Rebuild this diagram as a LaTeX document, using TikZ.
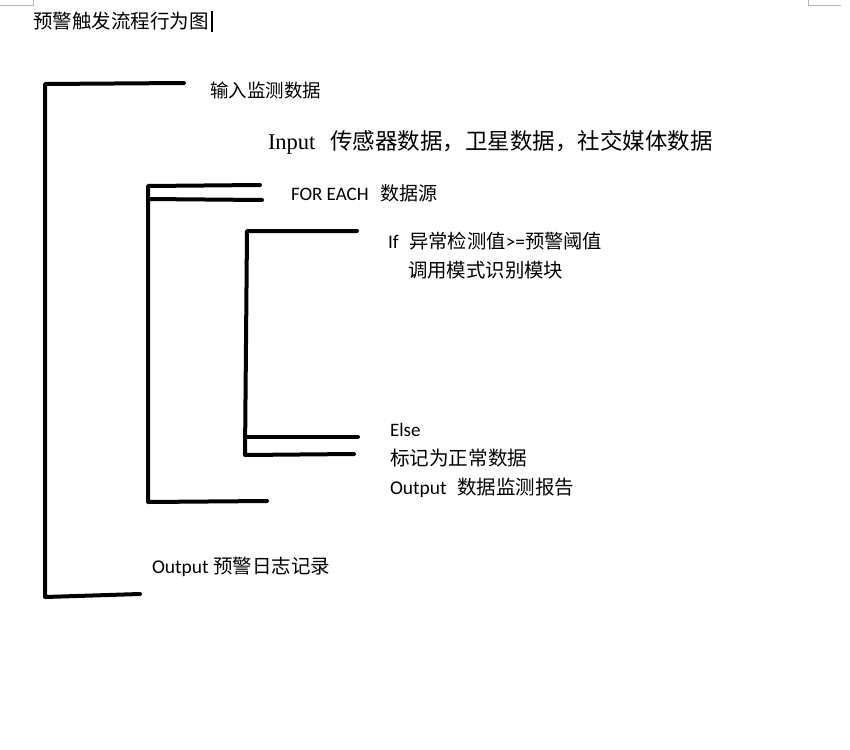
\documentclass[tikz,border=0pt]{standalone}
\usepackage{fontspec}
\setmainfont{Liberation Serif}
\newfontfamily\cjk{Noto Sans CJK SC}
\newfontfamily\calfont{Carlito}
\begin{document}
\begin{tikzpicture}[x=1pt,y=-1pt,
  bracket/.style={line width=4pt,line cap=round,line join=round},
  pagemark/.style={draw=black!30,line width=1pt},
  label/.style={anchor=base west,inner sep=0pt,outer sep=0pt},
  sz/.style={font=\fontsize{#1}{#1}\selectfont}]
\useasboundingbox[fill=white] (0,0) rectangle (850,749);

% page corner marks and caret
\draw[pagemark] (0,6) -- (33,6) -- (33,0);
\draw[pagemark] (841,6) -- (808,6) -- (808,0);
\coordinate (caretTop) at (212,11);
\coordinate (caretBot) at (212,32);
\draw[line width=1.2pt] (caretTop) -- (caretBot);

% title
\node[label,sz=19.5] (title) at (33,29) {\cjk 预警触发流程行为图};

% outer bracket
\coordinate (o1) at (184,83);
\coordinate (o2) at (45,84);
\coordinate (o3) at (45,597);
\coordinate (o4) at (140,594);
\draw[bracket] (o1) -- (o2) -- (o3) -- (o4);

% loop bracket
\coordinate (f1) at (260,185);
\coordinate (f2) at (148,186);
\coordinate (f3) at (148,502);
\coordinate (f4) at (267,501);
\coordinate (f5) at (148,199);
\coordinate (f6) at (262,200);
\draw[bracket] (f1) -- (f2) -- (f3) -- (f4);
\draw[bracket] (f5) -- (f6);

% if/else bracket
\coordinate (c1) at (357,231);
\coordinate (c2) at (247,231);
\coordinate (c3) at (245,455);
\coordinate (c4) at (354,454);
\coordinate (c5) at (247,437);
\coordinate (c6) at (358,437);
\draw[bracket] (c1) -- (c2) -- (c3) -- (c4);
\draw[bracket] (c5) -- (c6);

% texts
\node[label,sz=18.5] (input) at (210,98) {\cjk 输入监测数据};
\node[label,sz=22.5] (sources) at (268,149) {Input\hspace{0.65em}{\cjk 传感器数据，卫星数据，社交媒体数据}};
\node[label,sz=19] (foreach) at (291,200) {\calfont FOR EACH\hspace{0.6em}{\cjk 数据源}};
\node[label,sz=19.3] (ifnode) at (388,248) {\calfont If\hspace{0.55em}{\cjk 异常检测值}>={\cjk 预警阈值}};
\node[label,sz=19.4] (call) at (408,277) {\cjk 调用模式识别模块};
\node[label,sz=19] (else) at (390,436) {\calfont Else};
\node[label,sz=19.6] (mark) at (390,465) {\cjk 标记为正常数据};
\node[label,sz=19.5] (report) at (390,494) {\calfont Output\hspace{0.55em}{\cjk 数据监测报告}};
\node[label,sz=19.5] (log) at (152,573) {\calfont Output {\cjk 预警日志记录}};
\end{tikzpicture}
\end{document}
